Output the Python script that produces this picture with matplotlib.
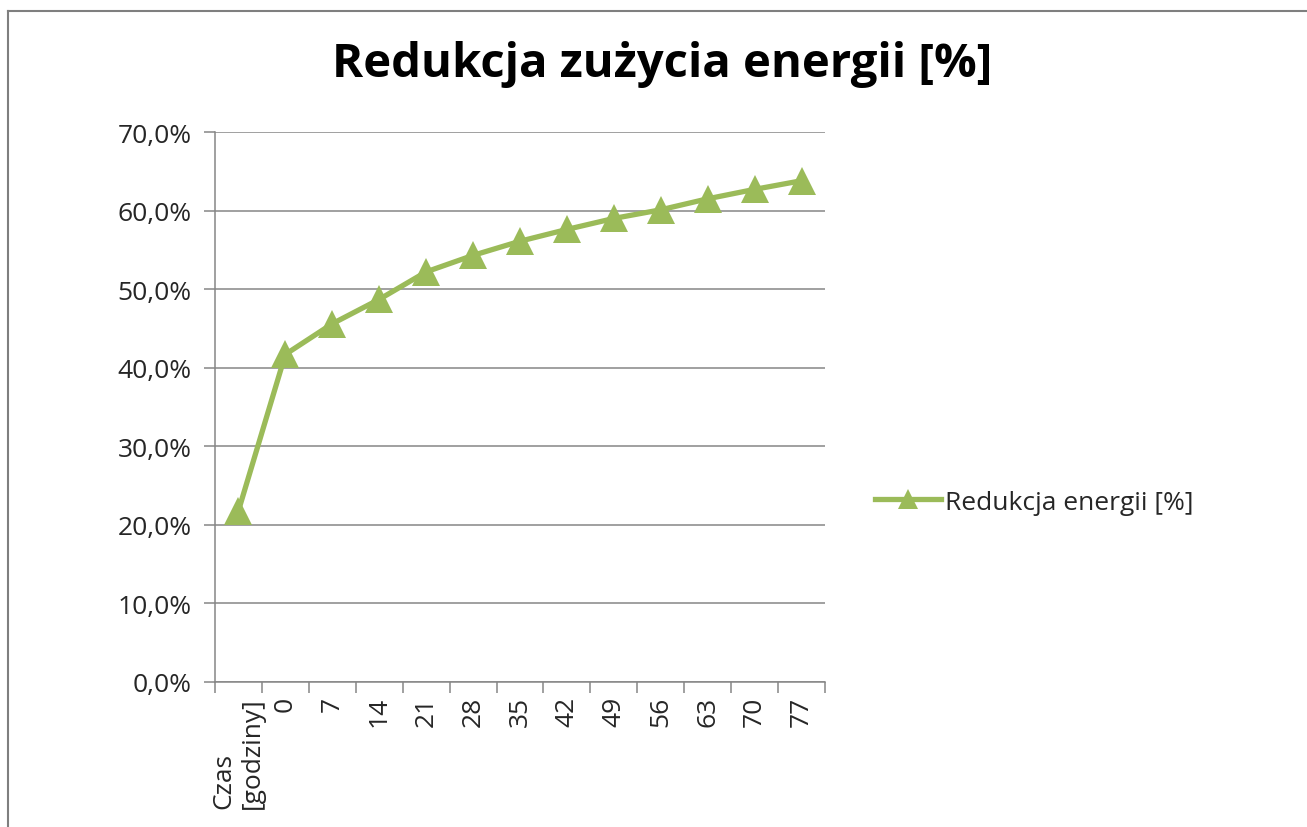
import numpy as np
import matplotlib
matplotlib.use("Agg")
import matplotlib.pyplot as plt
from matplotlib.lines import Line2D
from matplotlib.ticker import FixedLocator, FuncFormatter

# data
categories = ["Czas\n[godziny]", "0", "7", "14", "21", "28", "35", "42",
              "49", "56", "63", "70", "77"]
reduction = [21.8, 41.7, 45.6, 48.7, 52.2, 54.3, 56.1, 57.6, 59.0, 60.1,
             61.5, 62.7, 63.8]
series_name = "Redukcja energii [%]"
title = "Redukcja zużycia energii [%]"

green = "#9BBB59"
gray = "#868686"

plt.rcParams["font.family"] = ["Open Sans", "DejaVu Sans"]

fig = plt.figure(figsize=(13.07, 8.28), dpi=100)
W, H = 1307, 828
ax = fig.add_axes([215 / W, 1 - 683 / H, 610 / W, 550 / H])

x = np.arange(len(categories))
ax.plot(x, reduction, color=green, lw=3.8, marker="^", ms=20,
        markeredgewidth=0, label=series_name, zorder=3)

ax.set_xlim(-0.5, len(categories) - 0.5)
ax.set_ylim(0, 70)

# y axis
ax.yaxis.set_major_locator(FixedLocator(np.arange(0, 71, 10)))
ax.yaxis.set_major_formatter(FuncFormatter(lambda v, p: f"{v:.1f}%".replace(".", ",")))
ax.grid(axis="y", color=gray, lw=1.1)
ax.set_axisbelow(True)

# x axis: tick marks between categories, labels at centres
ax.xaxis.set_major_locator(FixedLocator(np.arange(-0.5, len(categories), 1)))
ax.xaxis.set_major_formatter(FuncFormatter(lambda v, p: ""))
ax.xaxis.set_minor_locator(FixedLocator(x))
ax.set_xticklabels(categories, minor=True, rotation=90, va="top", ha="center",
                   multialignment="left")

ax.tick_params(axis="x", which="major", length=8, color=gray, width=1.1)
ax.tick_params(axis="x", which="minor", length=0, pad=10, labelsize=19, labelcolor="#262626")
ax.tick_params(axis="y", length=8, color=gray, width=1.1, pad=9, labelsize=19,
               labelcolor="#262626")

for s in ["top", "right"]:
    ax.spines[s].set_visible(False)
for s in ["left", "bottom"]:
    ax.spines[s].set_color(gray)
    ax.spines[s].set_linewidth(1.1)

fig.text(662 / W, 1 - 65 / H, title, ha="center", va="center",
         fontsize=34, fontweight="bold", color="black")

fig.legend(loc="center left", bbox_to_anchor=(851 / W, 1 - 503 / H), frameon=False,
           fontsize=19, handlelength=2.5, handletextpad=0.15, markerscale=0.75,
           labelcolor="#262626")

# outer frame (left and top edges visible)
fig.add_artist(Line2D([8 / W, 8 / W], [0, 1 - 12 / H], transform=fig.transFigure,
                      color="#7f7f7f", lw=1.5))
fig.add_artist(Line2D([8 / W, 1], [1 - 12 / H, 1 - 12 / H], transform=fig.transFigure,
                      color="#7f7f7f", lw=1.5))

fig.savefig("out.png", dpi=100)
